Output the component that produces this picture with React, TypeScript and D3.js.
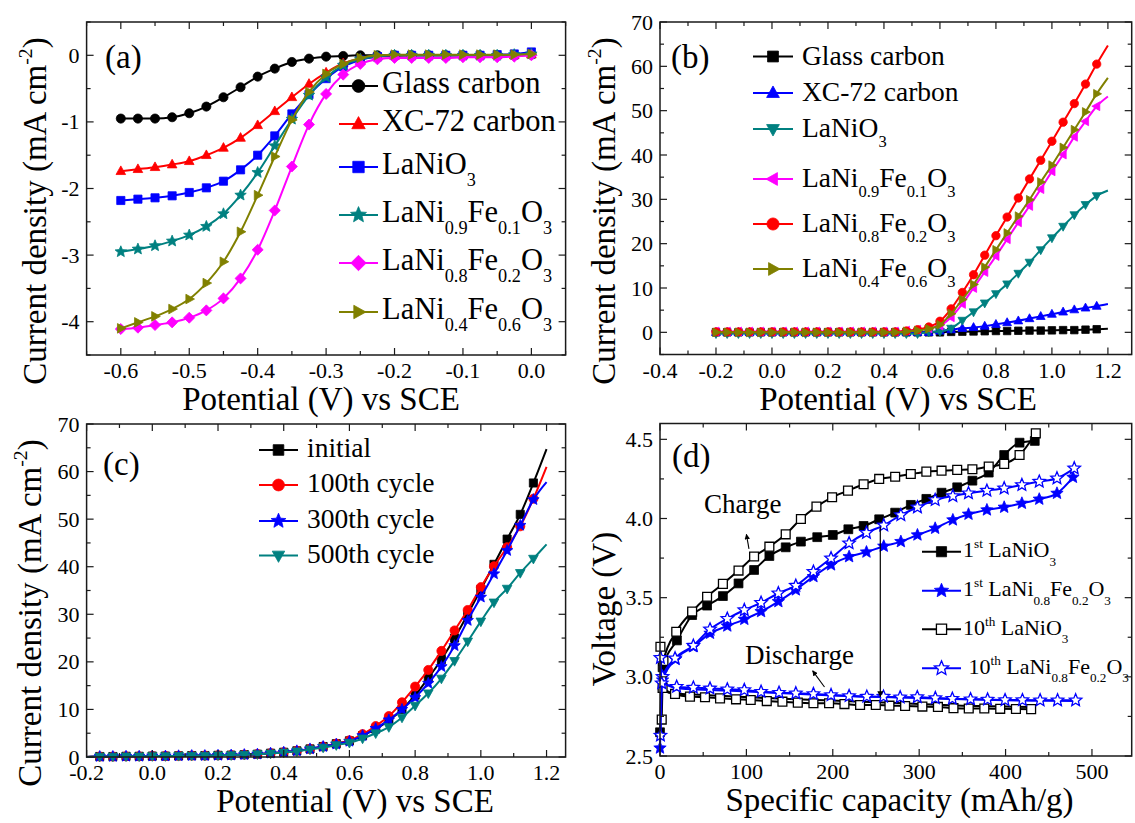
import React from 'react';
import * as d3 from 'd3';

const FONT = '"Liberation Serif", "Times New Roman", Times, serif';
const INK = '#000';

// ---------- (a) ORR curves, potential in V vs SCE ----------
const aPotential = [-0.6, -0.575, -0.55, -0.525, -0.5, -0.475, -0.45, -0.425, -0.4, -0.375, -0.35, -0.325, -0.3,
  -0.275, -0.25, -0.225, -0.2, -0.175, -0.15, -0.125, -0.1, -0.075, -0.05, -0.025, 0];
const aGlassCarbon = [-0.95, -0.95, -0.95, -0.93, -0.87, -0.77, -0.63, -0.48, -0.32, -0.2, -0.1, -0.05, -0.02, -0.01, 0,
  0, 0, 0, 0, 0, 0, 0, 0, 0, 0.01];
const aXC72 = [-1.74, -1.71, -1.68, -1.64, -1.59, -1.5, -1.39, -1.24, -1.05, -0.84, -0.63, -0.43, -0.26, -0.12, -0.05,
  -0.02, -0.01, 0, 0, 0, 0, 0, 0, 0, 0.01];
const aLaNiO3 = [-2.18, -2.16, -2.14, -2.11, -2.06, -1.99, -1.89, -1.72, -1.5, -1.21, -0.88, -0.59, -0.35, -0.17, -0.07,
  -0.02, 0, 0, 0, 0, 0, 0, 0.01, 0.02, 0.05];
const aNi9Fe1 = [-2.95, -2.91, -2.86, -2.79, -2.7, -2.57, -2.38, -2.1, -1.76, -1.36, -0.96, -0.6, -0.33, -0.15, -0.06,
  -0.02, 0, 0, 0, 0, 0, 0, 0, 0.01, 0.02];
const aNi8Fe2 = [-4.11, -4.09, -4.05, -4.01, -3.94, -3.83, -3.65, -3.35, -2.92, -2.33, -1.67, -1.04, -0.58, -0.29, -0.13,
  -0.06, -0.04, -0.04, -0.04, -0.04, -0.03, -0.03, -0.03, -0.02, 0];
const aNi4Fe6 = [-4.1, -4.01, -3.92, -3.81, -3.66, -3.42, -3.1, -2.65, -2.1, -1.52, -0.97, -0.55, -0.28, -0.13, -0.04,
  0, 0.01, 0.01, 0.01, 0.01, 0.01, 0.01, 0.01, 0.01, 0.02];

// ---------- (b) OER curves ----------
const bPotential = [-0.2, -0.16, -0.12, -0.08, -0.04, 0, 0.04, 0.08, 0.12, 0.16, 0.2, 0.24, 0.28, 0.32, 0.36, 0.4, 0.44,
  0.48, 0.52, 0.56, 0.6, 0.64, 0.68, 0.72, 0.76, 0.8, 0.84, 0.88, 0.92, 0.96, 1.0, 1.04, 1.08, 1.12, 1.16, 1.2];
const bGlassCarbon = [0, 0, 0, 0, 0, 0, 0, 0, 0, 0, 0, 0, 0, 0, 0, 0, 0, 0, 0, 0, 0,
  0.1, 0.15, 0.2, 0.25, 0.3, 0.3, 0.35, 0.4, 0.4, 0.45, 0.5, 0.5, 0.6, 0.7, 0.8];
const bXC72 = [0, 0, 0, 0, 0, 0, 0, 0, 0, 0, 0, 0, 0, 0, 0, 0, 0, 0, 0, 0,
  0.3, 0.6, 0.9, 1.1, 1.4, 1.8, 2.2, 2.6, 3.1, 3.6, 4.1, 4.6, 5.1, 5.5, 5.9, 6.4];
const bLaNiO3 = [-0.3, -0.3, -0.3, -0.3, -0.3, -0.3, -0.3, -0.3, -0.3, -0.3, -0.3, -0.3, -0.3, -0.3, -0.3, -0.3, -0.3,
  -0.3, -0.3, 0.1, 0.2, 0.9, 2.7, 4.6, 6.6, 8.7, 10.9, 13.3, 15.8, 18.6, 21.3, 23.9, 26.5, 28.8, 30.8, 32.0];
const bNi9Fe1 = [0.2, 0.2, 0.2, 0.2, 0.2, 0.2, 0.2, 0.2, 0.2, 0.2, 0.2, 0.2, 0.2, 0.2, 0.2, 0.2, 0.2,
  0.4, 0.6, 0.9, 1.5, 3.4, 6.4, 10.0, 13.6, 17.2, 21.0, 24.8, 28.5, 32.3, 36.3, 40.1, 44.1, 47.6, 51.0, 53.2];
const bNi8Fe2 = [0.1, 0.1, 0.1, 0.1, 0.1, 0.1, 0.1, 0.1, 0.1, 0.1, 0.1, 0.1, 0.1, 0.1, 0.1, 0.1, 0.1,
  0.3, 0.6, 1.2, 2.5, 5.3, 9.0, 13.0, 17.4, 21.8, 26.0, 30.3, 34.6, 38.8, 43.1, 47.4, 51.6, 56.0, 60.5, 64.7];
const bNi4Fe6 = [0, 0, 0, 0, 0, 0, 0, 0, 0, 0, 0, 0, 0, 0, 0, 0, 0,
  0.2, 0.4, 0.8, 1.7, 4.2, 7.4, 10.8, 14.7, 18.6, 22.4, 26.2, 29.9, 33.9, 37.7, 41.7, 45.7, 49.7, 53.8, 57.4];

// ---------- (c) cycling of LaNi0.8Fe0.2O3 ----------
const cPotential = [-0.2, -0.16, -0.12, -0.08, -0.04, 0, 0.04, 0.08, 0.12, 0.16, 0.2, 0.24, 0.28, 0.32, 0.36, 0.4, 0.44,
  0.48, 0.52, 0.56, 0.6, 0.64, 0.68, 0.72, 0.76, 0.8, 0.84, 0.88, 0.92, 0.96, 1.0, 1.04, 1.08, 1.12, 1.16, 1.2];
const cInitial = [0, 0.1, 0.1, 0.15, 0.15, 0.2, 0.2, 0.25, 0.3, 0.3, 0.35, 0.4, 0.5, 0.6, 0.8, 1.0, 1.3, 1.7, 2.2, 2.8,
  3.4, 4.5, 5.9, 7.7, 10.0, 13.0, 16.6, 20.5, 25.0, 30.0, 35.2, 40.5, 45.8, 51.0, 57.6, 64.7];
const c100th = [0, 0.1, 0.1, 0.15, 0.15, 0.2, 0.2, 0.25, 0.3, 0.3, 0.35, 0.4, 0.5, 0.6, 0.8, 1.0, 1.3, 1.7, 2.2, 2.8,
  3.5, 4.8, 6.5, 8.6, 11.5, 14.8, 18.3, 22.3, 26.6, 30.9, 35.7, 40.1, 44.1, 48.5, 54.3, 61.0];
const c300th = [0, 0.1, 0.1, 0.15, 0.15, 0.2, 0.2, 0.25, 0.3, 0.3, 0.35, 0.4, 0.5, 0.6, 0.8, 1.0, 1.3, 1.7, 2.2, 2.7,
  3.3, 4.5, 6.0, 7.8, 10.0, 12.5, 15.5, 19.0, 23.4, 28.7, 33.6, 38.5, 43.4, 48.7, 54.1, 57.8];
const c500th = [0, 0.1, 0.1, 0.15, 0.15, 0.2, 0.2, 0.25, 0.3, 0.3, 0.35, 0.4, 0.5, 0.6, 0.75, 0.95, 1.2, 1.6, 2.0, 2.5,
  3.0, 3.9, 5.0, 6.3, 8.3, 10.8, 13.4, 16.5, 20.2, 24.3, 28.5, 32.5, 35.4, 38.7, 41.7, 44.7];

// ---------- (d) charge / discharge, [capacity mAh/g, voltage V] ----------
const d1LaNiO3Charge: [number, number][] = [[0, 2.65], [3, 3.06], [19.6, 3.23], [37.2, 3.39], [54.5, 3.45], [72.8, 3.51],
  [90.9, 3.59], [108.9, 3.675], [126.6, 3.763], [145.5, 3.818], [163.1, 3.854], [182, 3.882], [200, 3.896], [218, 3.932],
  [235.7, 3.953], [253.7, 3.995], [272.2, 4.037], [290.3, 4.086], [308.3, 4.124], [325.9, 4.163], [344, 4.197],
  [361.6, 4.239], [380.5, 4.29], [398.4, 4.401], [416.2, 4.479], [433.8, 4.49]];
const d1LaNiO3Discharge: [number, number][] = [[0, 2.95], [10, 2.9], [50, 2.885], [100, 2.872], [150, 2.86], [200, 2.85],
  [250, 2.84], [300, 2.828], [350, 2.818], [400, 2.812], [428, 2.81]];
const d1Ni8Fe2Charge: [number, number][] = [[0, 2.55], [3, 2.98], [18, 3.11], [38.6, 3.19], [57.9, 3.275], [77.9, 3.321],
  [97.6, 3.363], [117, 3.412], [137, 3.475], [157.2, 3.549], [177.6, 3.633], [198, 3.707], [218.9, 3.759], [239, 3.788],
  [259, 3.825], [278.8, 3.854], [298, 3.896], [318.5, 3.938], [339, 3.991], [357.1, 4.027], [378.4, 4.054],
  [398.4, 4.071], [418.9, 4.096], [439, 4.122], [459.5, 4.159], [478, 4.26]];
const d1Ni8Fe2Discharge: [number, number][] = [[0, 2.97], [20, 2.928], [100, 2.908], [200, 2.882], [300, 2.866],
  [400, 2.852], [480, 2.848]];
const d10LaNiO3Charge: [number, number][] = [[2, 2.73], [4, 3.1], [18.8, 3.285], [37.2, 3.412], [54.5, 3.506],
  [72.8, 3.587], [90.9, 3.671], [108.9, 3.76], [126.6, 3.822], [145.5, 3.9], [163.1, 3.997], [181.1, 4.075],
  [199.2, 4.134], [217.6, 4.176], [235.7, 4.216], [253.7, 4.25], [272.2, 4.264], [290.3, 4.281], [308.3, 4.296],
  [325.9, 4.302], [344, 4.307], [361.6, 4.311], [380.5, 4.328], [398.4, 4.345], [416.2, 4.401], [435, 4.538]];
const d10LaNiO3Discharge: [number, number][] = [[0.5, 3.19], [3, 2.93], [17.4, 2.892], [34.7, 2.875], [52.1, 2.871],
  [69.5, 2.864], [88, 2.858], [105, 2.854], [123.6, 2.847], [141.7, 2.843], [159.5, 2.837], [177.6, 2.833],
  [195.7, 2.833], [213.5, 2.828], [231.6, 2.822], [249.8, 2.822], [265.6, 2.818], [283.7, 2.816], [303.7, 2.812],
  [321.7, 2.81], [339.7, 2.802], [357.4, 2.8], [375.4, 2.8], [393.8, 2.798], [412, 2.797], [429.6, 2.796]];
const d10Ni8Fe2Charge: [number, number][] = [[0.5, 2.63], [3, 3.0], [17.4, 3.117], [38.6, 3.197], [57.9, 3.3],
  [77.9, 3.367], [97.6, 3.422], [117, 3.468], [137, 3.528], [157.2, 3.576], [177.6, 3.664], [198, 3.749],
  [218.9, 3.844], [239, 3.91], [259, 3.957], [278.8, 4.022], [298, 4.071], [318.5, 4.117], [339, 4.142],
  [357.1, 4.16], [378.4, 4.176], [398.4, 4.191], [418.9, 4.212], [439, 4.233], [459.5, 4.254], [479.5, 4.317]];
const d10Ni8Fe2Discharge: [number, number][] = [[0.5, 3.12], [2, 2.96], [19.3, 2.938], [38.6, 2.932], [57.9, 2.927],
  [77.9, 2.921], [97.6, 2.917], [117, 2.906], [137.8, 2.9], [157.2, 2.896], [177.6, 2.892], [198, 2.885],
  [218.9, 2.879], [239.4, 2.875], [258.7, 2.875], [278, 2.871], [297.8, 2.872], [318.7, 2.866], [338.4, 2.862],
  [359.5, 2.859], [379.2, 2.857], [399.4, 2.853], [419.5, 2.853], [440, 2.852], [460.2, 2.852], [481.1, 2.852]];

const C = { black: '#000000', red: '#ff0000', blue: '#0000ff', teal: '#008080', magenta: '#ff00ff', olive: '#808000' };

type Shape = 'circle' | 'square' | 'up' | 'down' | 'left' | 'right' | 'diamond' | 'star';

interface Series {
  label?: string;
  color: string;
  shape: Shape | null;
  open?: boolean;
  pts: [number, number][];
}

interface PanelSpec {
  box: { l: number; t: number; r: number; b: number };
  xDomain: [number, number];
  yDomain: [number, number];
  xMajor: number[];
  yMajor: number[];
  xMinorStep: number;
  yMinorStep: number;
  xFmt: (v: number) => string;
  yFmt: (v: number) => string;
  xTitle: { text: string; x: number; y: number };
  yTitle: { text: string; x: number; y: number };
  tag: { text: string; x: number; y: number };
  series: Series[];
  markerR: number;
  skipFirstMarker?: boolean;
  skipLastMarker?: boolean;
  legend: { items: Series[]; x1: number; x2: number; tx: number; rows: number[]; size: number; dy: number; scale: number };
}

const zip = (xs: number[], ys: number[]): [number, number][] => xs.map((v, i) => [v, ys[i]]);

function markerPath(shape: Shape, r: number): string {
  switch (shape) {
    case 'circle': {
      const c = r * 0.95;
      return `M${c},0A${c},${c} 0 1,1 ${-c},0A${c},${c} 0 1,1 ${c},0Z`;
    }
    case 'square': {
      const s = r * 0.85;
      return `M${-s},${-s}H${s}V${s}H${-s}Z`;
    }
    case 'up': return `M0,${-r * 1.1}L${r},${r * 0.7}L${-r},${r * 0.7}Z`;
    case 'down': return `M0,${r * 1.1}L${r},${-r * 0.7}L${-r},${-r * 0.7}Z`;
    case 'left': return `M${-r * 1.1},0L${r * 0.7},${-r}L${r * 0.7},${r}Z`;
    case 'right': return `M${r * 1.1},0L${-r * 0.7},${-r}L${-r * 0.7},${r}Z`;
    case 'diamond': {
      const d = r * 1.15;
      return `M0,${-d}L${d},0L0,${d}L${-d},0Z`;
    }
    case 'star': {
      const outer = r * 1.25;
      const inner = outer * 0.45;
      let p = '';
      for (let i = 0; i < 10; i++) {
        const rad = i % 2 === 0 ? outer : inner;
        const a = -Math.PI / 2 + (i * Math.PI) / 5;
        p += `${i === 0 ? 'M' : 'L'}${(rad * Math.cos(a)).toFixed(2)},${(rad * Math.sin(a)).toFixed(2)}`;
      }
      return p + 'Z';
    }
  }
  return '';
}

function Marker({ s, cx, cy, r }: { s: Series; cx: number; cy: number; r: number }) {
  if (!s.shape) return null;
  return (
    <path
      d={markerPath(s.shape, r)}
      transform={`translate(${cx},${cy})`}
      fill={s.open ? '#ffffff' : s.color}
      stroke={s.color}
      strokeWidth={s.open ? 1.3 : 0.8}
    />
  );
}

function parseRich(s: string) {
  const parts: { t: string; k: 'n' | 'sub' | 'sup' }[] = [];
  const re = /([_^])\{([^}]*)\}/g;
  let last = 0;
  let m: RegExpExecArray | null;
  while ((m = re.exec(s))) {
    if (m.index > last) parts.push({ t: s.slice(last, m.index), k: 'n' });
    parts.push({ t: m[2], k: m[1] === '_' ? 'sub' : 'sup' });
    last = re.lastIndex;
  }
  if (last < s.length) parts.push({ t: s.slice(last), k: 'n' });
  return parts;
}

function RichText({ x, y, text, size, anchor = 'start', rotate = false }:
  { x: number; y: number; text: string; size: number; anchor?: string; rotate?: boolean }) {
  const parts = parseRich(text);
  let cur = 0;
  const spans = parts.map((p, i) => {
    const target = p.k === 'sub' ? size * 0.38 : p.k === 'sup' ? -size * 0.42 : 0;
    const dy = target - cur;
    cur = target;
    return (
      <tspan key={i} dy={dy} fontSize={p.k === 'n' ? size : size * 0.6}>{p.t}</tspan>
    );
  });
  return (
    <text
      x={rotate ? 0 : x}
      y={rotate ? 0 : y}
      transform={rotate ? `translate(${x},${y}) rotate(-90)` : undefined}
      fontFamily={FONT}
      fontSize={size}
      fill={INK}
      textAnchor={anchor as any}
      style={{ whiteSpace: 'pre' }}
    >
      {spans}
    </text>
  );
}

function minorTicks(domain: [number, number], step: number, majors: number[]) {
  const out: number[] = [];
  const start = Math.ceil(domain[0] / step - 1e-9);
  for (let i = start; i * step <= domain[1] + 1e-9; i++) {
    const v = Math.round(i * step * 1e6) / 1e6;
    if (!majors.some(m => Math.abs(m - v) < 1e-6)) out.push(v);
  }
  return out;
}

function Panel({ p }: { p: PanelSpec }) {
  const { l, t, r, b } = p.box;
  const x = d3.scaleLinear().domain(p.xDomain).range([l, r]);
  const y = d3.scaleLinear().domain(p.yDomain).range([b, t]);
  const line = d3.line<[number, number]>().x(d => x(d[0])).y(d => y(d[1])).curve(d3.curveMonotoneX);
  const xMinor = minorTicks(p.xDomain, p.xMinorStep, p.xMajor);
  const yMinor = minorTicks(p.yDomain, p.yMinorStep, p.yMajor);
  const maj = 7;
  const mnr = 4;
  const lg = p.legend;

  return (
    <g>
      {p.series.map((s, si) => (
        <g key={si}>
          <path d={line(s.pts) || ''} fill="none" stroke={s.color} strokeWidth={2} />
          {s.shape && s.pts.map((d, i) => {
            if (p.skipFirstMarker && i === 0) return null;
            if (p.skipLastMarker && i === s.pts.length - 1) return null;
            return <Marker key={i} s={s} cx={x(d[0])} cy={y(d[1])} r={p.markerR} />;
          })}
        </g>
      ))}

      <rect x={l} y={t} width={r - l} height={b - t} fill="none" stroke="#1a1a1a" strokeWidth={1.5} />
      <g stroke="#1a1a1a" strokeWidth={1.2}>
        {p.xMajor.map(v => (
          <g key={`xM${v}`}>
            <line x1={x(v)} x2={x(v)} y1={b} y2={b - maj} />
            <line x1={x(v)} x2={x(v)} y1={t} y2={t + maj} />
          </g>
        ))}
        {xMinor.map(v => (
          <g key={`xm${v}`}>
            <line x1={x(v)} x2={x(v)} y1={b} y2={b - mnr} />
            <line x1={x(v)} x2={x(v)} y1={t} y2={t + mnr} />
          </g>
        ))}
        {p.yMajor.map(v => (
          <g key={`yM${v}`}>
            <line x1={l} x2={l + maj} y1={y(v)} y2={y(v)} />
            <line x1={r} x2={r - maj} y1={y(v)} y2={y(v)} />
          </g>
        ))}
        {yMinor.map(v => (
          <g key={`ym${v}`}>
            <line x1={l} x2={l + mnr} y1={y(v)} y2={y(v)} />
            <line x1={r} x2={r - mnr} y1={y(v)} y2={y(v)} />
          </g>
        ))}
      </g>
      <g fontFamily={FONT} fontSize={22} fill={INK}>
        {p.xMajor.map(v => (
          <text key={`xl${v}`} x={x(v)} y={b + 23} textAnchor="middle">{p.xFmt(v)}</text>
        ))}
        {p.yMajor.map(v => (
          <text key={`yl${v}`} x={l - 7} y={y(v) + 7.5} textAnchor="end">{p.yFmt(v)}</text>
        ))}
      </g>

      <RichText x={p.xTitle.x} y={p.xTitle.y} text={p.xTitle.text} size={33} anchor="middle" />
      <RichText x={p.yTitle.x} y={p.yTitle.y} text={p.yTitle.text} size={33} anchor="middle" rotate />
      <RichText x={p.tag.x} y={p.tag.y} text={p.tag.text} size={33} />

      {lg.items.map((s, i) => {
        const ry = lg.rows[i];
        const cx = (lg.x1 + lg.x2) / 2;
        return (
          <g key={`lg${i}`}>
            <line x1={lg.x1} x2={lg.x2} y1={ry} y2={ry} stroke={s.color} strokeWidth={2} />
            <Marker s={s} cx={cx} cy={ry} r={p.markerR * lg.scale} />
            <RichText x={lg.tx} y={ry + lg.dy} text={s.label || ''} size={lg.size} />
          </g>
        );
      })}
    </g>
  );
}

const YTITLE_CD = 'Current density (mA cm^{-2})';
const XTITLE_POT = 'Potential (V) vs SCE';
const fmt1 = (v: number) => v.toFixed(1);
const fmt0 = (v: number) => String(v);

const aSeries: Series[] = [
  { label: 'Glass carbon', color: C.black, shape: 'circle', pts: zip(aPotential, aGlassCarbon) },
  { label: 'XC-72 carbon', color: C.red, shape: 'up', pts: zip(aPotential, aXC72) },
  { label: 'LaNiO_{3}', color: C.blue, shape: 'square', pts: zip(aPotential, aLaNiO3) },
  { label: 'LaNi_{0.9}Fe_{0.1}O_{3}', color: C.teal, shape: 'star', pts: zip(aPotential, aNi9Fe1) },
  { label: 'LaNi_{0.8}Fe_{0.2}O_{3}', color: C.magenta, shape: 'diamond', pts: zip(aPotential, aNi8Fe2) },
  { label: 'LaNi_{0.4}Fe_{0.6}O_{3}', color: C.olive, shape: 'right', pts: zip(aPotential, aNi4Fe6) },
];

const bSeries: Series[] = [
  { label: 'Glass carbon', color: C.black, shape: 'square', pts: zip(bPotential, bGlassCarbon) },
  { label: 'XC-72 carbon', color: C.blue, shape: 'up', pts: zip(bPotential, bXC72) },
  { label: 'LaNiO_{3}', color: C.teal, shape: 'down', pts: zip(bPotential, bLaNiO3) },
  { label: 'LaNi_{0.9}Fe_{0.1}O_{3}', color: C.magenta, shape: 'left', pts: zip(bPotential, bNi9Fe1) },
  { label: 'LaNi_{0.8}Fe_{0.2}O_{3}', color: C.red, shape: 'circle', pts: zip(bPotential, bNi8Fe2) },
  { label: 'LaNi_{0.4}Fe_{0.6}O_{3}', color: C.olive, shape: 'right', pts: zip(bPotential, bNi4Fe6) },
];

const cSeries: Series[] = [
  { label: 'initial', color: C.black, shape: 'square', pts: zip(cPotential, cInitial) },
  { label: '100th cycle', color: C.red, shape: 'circle', pts: zip(cPotential, c100th) },
  { label: '300th cycle', color: C.blue, shape: 'star', pts: zip(cPotential, c300th) },
  { label: '500th cycle', color: C.teal, shape: 'down', pts: zip(cPotential, c500th) },
];

const dFirstLa: Series = { label: '1^{st} LaNiO_{3}', color: C.black, shape: 'square', pts: d1LaNiO3Charge };
const dFirstFe: Series = { label: '1^{st} LaNi_{0.8}Fe_{0.2}O_{3}', color: C.blue, shape: 'star', pts: d1Ni8Fe2Charge };
const dTenthLa: Series = { label: '10^{th} LaNiO_{3}', color: C.black, shape: 'square', open: true, pts: d10LaNiO3Charge };
const dTenthFe: Series = { label: ' 10^{th} LaNi_{0.8}Fe_{0.2}O_{3}', color: C.blue, shape: 'star', open: true, pts: d10Ni8Fe2Charge };
const dSeries: Series[] = [
  dFirstLa,
  { color: C.black, shape: null, pts: d1LaNiO3Discharge },
  dFirstFe,
  { color: C.blue, shape: null, pts: d1Ni8Fe2Discharge },
  dTenthLa,
  { color: C.black, shape: 'square', open: true, pts: d10LaNiO3Discharge },
  dTenthFe,
  { color: C.blue, shape: 'star', open: true, pts: d10Ni8Fe2Discharge },
];

const panels: PanelSpec[] = [
  {
    box: { l: 86.6, t: 22, r: 565.6, b: 355 },
    xDomain: [-0.65, 0.05], yDomain: [-4.5, 0.5],
    xMajor: [-0.6, -0.5, -0.4, -0.3, -0.2, -0.1, 0], yMajor: [-4, -3, -2, -1, 0],
    xMinorStep: 0.05, yMinorStep: 0.5, xFmt: fmt1, yFmt: fmt0,
    xTitle: { text: XTITLE_POT, x: 321, y: 410 },
    yTitle: { text: YTITLE_CD, x: 46, y: 211 },
    tag: { text: '(a)', x: 105, y: 68 },
    series: aSeries, markerR: 4.8,
    legend: { items: aSeries, x1: 339, x2: 378, tx: 382, rows: [86, 124, 167, 215, 263, 312], size: 30.5, dy: 7, scale: 1.4 },
  },
  {
    box: { l: 660, t: 22, r: 1131.7, b: 354.5 },
    xDomain: [-0.4, 1.285], yDomain: [-5, 70],
    xMajor: [-0.4, -0.2, 0, 0.2, 0.4, 0.6, 0.8, 1.0, 1.2], yMajor: [0, 10, 20, 30, 40, 50, 60, 70],
    xMinorStep: 0.1, yMinorStep: 5, xFmt: fmt1, yFmt: fmt0,
    xTitle: { text: XTITLE_POT, x: 898, y: 410 },
    yTitle: { text: YTITLE_CD, x: 615, y: 211 },
    tag: { text: '(b)', x: 671, y: 68 },
    series: bSeries, markerR: 4.4, skipLastMarker: true,
    legend: { items: bSeries, x1: 753, x2: 793, tx: 802, rows: [56.5, 93, 129, 179, 224, 269], size: 27.5, dy: 8, scale: 1.45 },
  },
  {
    box: { l: 86.6, t: 424, r: 565.6, b: 757 },
    xDomain: [-0.2, 1.258], yDomain: [0, 70],
    xMajor: [-0.2, 0, 0.2, 0.4, 0.6, 0.8, 1.0, 1.2], yMajor: [0, 10, 20, 30, 40, 50, 60, 70],
    xMinorStep: 0.1, yMinorStep: 5, xFmt: fmt1, yFmt: fmt0,
    xTitle: { text: XTITLE_POT, x: 355, y: 812 },
    yTitle: { text: YTITLE_CD, x: 40.5, y: 613 },
    tag: { text: '(c)', x: 103, y: 475 },
    series: cSeries, markerR: 4.8, skipFirstMarker: true, skipLastMarker: true,
    legend: { items: cSeries, x1: 259, x2: 298, tx: 307, rows: [450, 485, 521, 555.5], size: 27.5, dy: 7, scale: 1.3 },
  },
  {
    box: { l: 660, t: 423.5, r: 1131.7, b: 756 },
    xDomain: [0, 546], yDomain: [2.5, 4.6],
    xMajor: [0, 100, 200, 300, 400, 500], yMajor: [2.5, 3.0, 3.5, 4.0, 4.5],
    xMinorStep: 50, yMinorStep: 0.25, xFmt: fmt0, yFmt: fmt1,
    xTitle: { text: 'Specific capacity (mAh/g)', x: 899.5, y: 811 },
    yTitle: { text: 'Voltage (V)', x: 615, y: 609 },
    tag: { text: '(d)', x: 672, y: 467 },
    series: dSeries, markerR: 5.2,
    legend: { items: [dFirstLa, dFirstFe, dTenthLa, dTenthFe], x1: 922, x2: 961, tx: 963, rows: [551.7, 590.7, 629.3, 668.3], size: 22, dy: 5.5, scale: 1.15 },
  },
];

// annotation arrows in (d), in data units [capacity, voltage]
const dMarkerCap = 255;
const dMarkerTop = 3.95;
const dMarkerBottom = 2.875;
const chargeArrow: [number, number][] = [[103, 3.808], [100, 3.9]];
const dischargeArrow: [number, number][] = [[190.4, 2.936], [176.7, 3.038]];

function Annotations() {
  const p = panels[3];
  const x = d3.scaleLinear().domain(p.xDomain).range([p.box.l, p.box.r]);
  const y = d3.scaleLinear().domain(p.yDomain).range([p.box.b, p.box.t]);
  return (
    <g>
      <line x1={x(dMarkerCap)} x2={x(dMarkerCap)} y1={y(dMarkerTop)} y2={y(dMarkerBottom)}
        stroke={INK} strokeWidth={1.2} markerEnd="url(#arrowHead)" />
      <line x1={x(chargeArrow[0][0])} y1={y(chargeArrow[0][1])} x2={x(chargeArrow[1][0])} y2={y(chargeArrow[1][1])}
        stroke={INK} strokeWidth={1.1} markerEnd="url(#arrowHead)" />
      <line x1={x(dischargeArrow[0][0])} y1={y(dischargeArrow[0][1])} x2={x(dischargeArrow[1][0])} y2={y(dischargeArrow[1][1])}
        stroke={INK} strokeWidth={1.1} markerEnd="url(#arrowHead)" />
      <text x={704} y={513} fontFamily={FONT} fontSize={27} fill={INK}>Charge</text>
      <text x={745} y={664} fontFamily={FONT} fontSize={27} fill={INK}>Discharge</text>
    </g>
  );
}

export default function App() {
  return (
    <svg
      width={1135}
      height={823}
      viewBox="0 0 1135 823"
      style={{ position: 'absolute', left: 0, top: 0, background: '#fff' }}
    >
      <defs>
        <marker id="arrowHead" viewBox="0 0 10 10" refX="9" refY="5" markerWidth="5" markerHeight="5" orient="auto">
          <path d="M0,0L10,5L0,10Z" fill={INK} />
        </marker>
      </defs>
      <rect x={0} y={0} width={1135} height={823} fill="#fff" />
      {panels.map((p, i) => <Panel key={i} p={p} />)}
      <Annotations />
    </svg>
  );
}
